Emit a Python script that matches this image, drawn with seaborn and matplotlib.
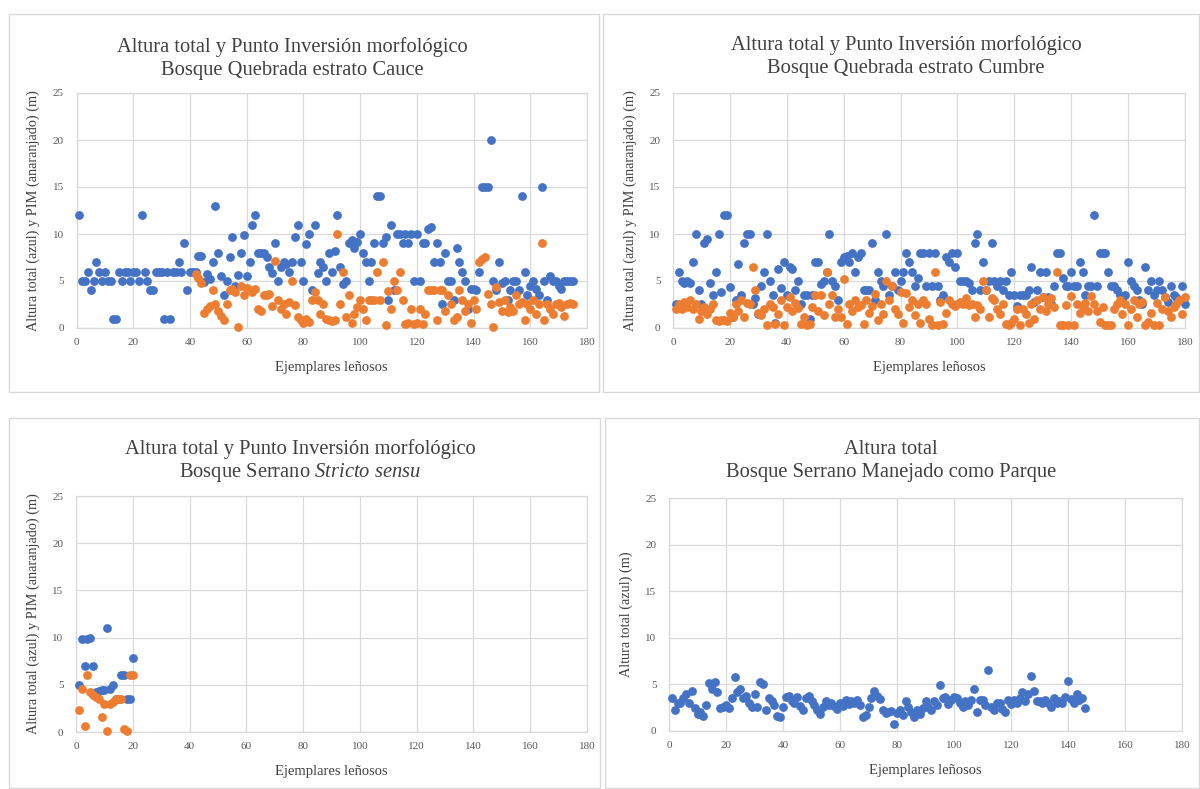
import numpy as np
import pandas as pd
import matplotlib
matplotlib.use("Agg")
import matplotlib.pyplot as plt
import seaborn as sns
from matplotlib.patches import Rectangle

sns.set_theme(style="whitegrid")
plt.rcParams['font.family'] = ['Liberation Serif', 'DejaVu Serif']
plt.rcParams['mathtext.fontset'] = 'custom'
plt.rcParams['mathtext.rm'] = 'Liberation Serif'
plt.rcParams['mathtext.it'] = 'Liberation Serif:italic'

BLUE = '#4472C4'
ORANGE = '#ED7D31'
GRID = '#D9D9D9'
TEXT = '#404040'
TICK = '#595959'

# ---------------- data ----------------
# Bosque Quebrada, estrato Cauce (ejemplares 1..175)
cauce_altura = [
    12, 5, 5, 6, 4, 5, 7, 6, 5, 6,
    5, 5, 1, 1, 6, 5, 6, 6, 5, 6,
    6, 5, 12, 6, 5, 4, 4, 6, 6, 6,
    1, 6, 1, 6, 6, 7, 6, 9, 4, 6,
    6, 6, 7.7, 7.7, 4.9, 5.7, 5.2, 7, 13, 8,
    5.5, 3.5, 5, 7.6, 9.7, 4.5, 5.6, 8, 9.9, 5.5,
    7, 11, 12, 8, 8, 8, 7.5, 6.5, 5.8, 9,
    5, 6.5, 7, 6.8, 6, 7, 9.7, 11, 7, 5,
    8.9, 10, 4, 11, 5.8, 7, 6.5, 5, 8, 6,
    8.2, 12, 6.5, 4.7, 5, 9, 9.4, 8.5, 9.2, 10,
    8, 7, 5, 7, 9, 14, 14, 9, 9.7, 3,
    11, 4, 10, 10, 9, 10, 9, 10, 5, 10,
    5, 9, 9, 10.5, 10.7, 7, 9, 7, 2.5, 8,
    5, 5, 3, 8.5, 7, 6, 5, 2, 4.2, 4.2,
    4, 6, 15, 15, 15, 20, 5, 4, 7, 4.8,
    5, 3, 4, 5, 5, 4, 14, 6, 3.5, 4.5,
    5, 4.2, 3.5, 15, 5, 3, 5.5, 5, 5, 4.5,
    4.2, 5, 5, 5, 5,
]
# PIM measured from ejemplar 42 onwards
cauce_pim_inicio = 42
cauce_pim = [
    5.7, 5.3, 4.8, 1.6, 2.0, 2.3, 4, 2.6, 1.8,
    1.3, 0.9, 2.5, 4.0, 4.2, 3.8, 0.1, 4.5, 3.5, 4.3,
    4.0, 3.8, 4.2, 2.0, 1.8, 3.5, 3.5, 3.6, 2.3, 7.1,
    3.0, 2.0, 2.6, 1.5, 2.8, 5.0, 2.4, 1.2, 0.8, 0.5,
    1.0, 0.6, 3.0, 3.8, 3.0, 1.5, 2.5, 1.0, 0.9, 0.7,
    0.9, 10, 2.5, 6, 1.2, 3.5, 0.5, 1.5, 2.2, 3.0,
    2.0, 0.8, 3, 3, 3, 6, 3, 7, 0.3, 3.9,
    2, 5, 4, 6, 3, 0.4, 0.5, 2, 0.4, 0.5,
    2, 0.4, 1.5, 4, 4, 4, 0.9, 4, 4, 1.8,
    3.5, 2.5, 0.9, 1.2, 4, 3, 1.8, 2.5, 0.5, 3.0,
    2, 7, 7.3, 7.5, 3.6, 2.5, 0.1, 4.4, 2.8, 1.8,
    3.0, 1.7, 2.2, 1.8, 3.5, 2.5, 2.8, 0.9, 2.5, 2.0,
    3.0, 1.5, 2.5, 9, 0.9, 2.5, 2.0, 1.5, 2.5, 2.7,
    2.2, 1.3, 2.5, 2.7, 2.5,
]

# Bosque Quebrada, estrato Cumbre (ejemplares 1..180)
cumbre_altura = [
    2.6, 6, 5, 4.8, 5, 4.8, 7, 10, 4, 2.5,
    9, 9.5, 4.8, 3.5, 6, 10, 3.8, 12, 12, 4.4,
    1.2, 3, 6.8, 3.5, 9, 10, 10, 2.5, 3.2, 1.5,
    4.5, 6, 10, 5, 3.5, 0.5, 6.3, 4.3, 7, 3.5,
    6.5, 6.3, 4, 5, 2.5, 3.5, 3.5, 1, 3.5, 7,
    7, 4.7, 5, 6, 10, 5, 4.5, 3, 7, 7.5,
    7.7, 7, 8, 6, 7.5, 8, 4, 4, 4, 9,
    3, 6, 5, 4.5, 10, 3.5, 4.5, 6, 4, 5,
    6, 8, 7, 6, 4.5, 5.3, 8, 8, 4.5, 8,
    4.5, 8, 4.5, 3.0, 3.5, 7.5, 7, 8, 6.5, 8,
    5, 5, 5, 4.8, 4, 9, 10, 4, 7, 4,
    5, 9, 5, 4.5, 5, 4, 5, 3.5, 6, 3.5,
    2.3, 3.5, 3.5, 3.5, 4, 6.5, 2.8, 4, 6, 3.3,
    6, 3.3, 2.5, 4.5, 8, 8, 5.3, 4.5, 4.5, 6,
    4.5, 4.5, 7, 6, 3.5, 4.5, 4.5, 12, 4.5, 8,
    8, 8, 6, 4.5, 4.5, 4, 3.5, 3.0, 3.5, 7,
    5, 4.5, 4, 3, 2.5, 6.5, 4, 5, 3.5, 4,
    5, 4, 3.3, 2.8, 4.5, 3.5, 3.3, 3, 4.5, 2.5,
]
cumbre_pim = [
    2, 2.5, 2, 2.8, 2.2, 3, 2, 2.5, 1, 1.8,
    2.2, 1.5, 2, 2.5, 0.8, 0.7, 0.9, 0.8, 0.7, 1.6,
    1.2, 2.5, 1.8, 3, 1.2, 2.7, 2.5, 6.5, 4, 1.6,
    1.4, 2, 0.3, 2.6, 2.2, 0.4, 1.5, 3, 0.3, 2.2,
    3.3, 1.8, 2.7, 2.1, 0.4, 1.2, 0.3, 0.4, 2.2, 3.5,
    1.8, 3.5, 1.4, 6, 2.6, 3.5, 1.2, 2, 1.2, 5.2,
    0.4, 2.6, 1.8, 3, 2.2, 2.4, 0.4, 3, 1.6, 2.3,
    3.6, 0.9, 2.5, 1.5, 5, 3, 4.5, 2, 1.5, 3.8,
    0.5, 3.7, 2.2, 3, 1.4, 2.5, 0.5, 3, 2.5, 1,
    0.3, 6, 0.3, 2.8, 0.4, 1.6, 3, 2.6, 2.3, 2.6,
    2.8, 2.5, 3.2, 2.4, 2.6, 1.2, 2.4, 2.0, 5, 4,
    1.2, 3.2, 3, 2, 1.5, 2.6, 0.4, 0.3, 0.5, 1,
    2, 0.3, 2, 1.5, 0.5, 2.5, 1.0, 3, 2, 3.3,
    1.8, 2.6, 3.2, 2.2, 6, 0.3, 0.3, 2.4, 0.3, 3.4,
    0.3, 2.5, 1.6, 2.2, 2.7, 1.8, 3.4, 2.5, 1.8, 0.6,
    2.2, 0.3, 0.3, 0.3, 2, 2.5, 3, 1.5, 2.5, 0.3,
    2, 3, 1.2, 2.5, 2.8, 0.3, 0.6, 1.6, 0.3, 2.7,
    0.3, 2, 3.3, 1.8, 1.2, 2.2, 2.6, 3, 1.5, 3.3,
]

# Bosque Serrano Stricto sensu (ejemplares 1..20)
serrano_altura = [5, 9.8, 7, 9.9, 10, 7, 4.2, 4.3, 4.4, 4.5,
                  11, 4.6, 5, 3.5, 3.5, 6, 6, 3.5, 3.5, 7.8]
serrano_pim = [2.3, 4.6, 0.6, 6, 4.2, 3.9, 3.7, 3.5, 1.6, 3,
               0.1, 3, 3.2, 3.5, 3.5, 3.5, 0.3, 0.1, 6, 6]

# Bosque Serrano manejado como parque (ejemplares 1..146)
parque_altura = [
    3.5, 2.3, 3, 3, 3.5, 4, 3, 4.3, 2.5, 1.8,
    2, 1.6, 2.8, 5.1, 4.5, 5.3, 4.2, 2.5, 2.6, 2.8,
    2.5, 3.5, 5.8, 4.2, 4.5, 3.5, 3.8, 3, 2.6, 4,
    2.6, 5.3, 5, 2.3, 3.5, 3.2, 2.8, 1.6, 1.5, 2.6,
    3.7, 3.8, 3.2, 3, 3.6, 2.7, 2.3, 3.5, 3.8, 3.2,
    2.8, 2.3, 1.8, 2.6, 3.2, 2.8, 3, 2.7, 2.4, 3,
    2.7, 3.3, 2.9, 3.2, 3, 3.3, 2.8, 1.5, 1.7, 2.6,
    3.5, 4.3, 3.8, 3.4, 2.2, 1.9, 2, 2.1, 0.7, 1.9,
    2.2, 1.7, 3.2, 2.6, 2.0, 1.5, 2.3, 1.8, 2.5, 3.2,
    2.6, 2.2, 3.2, 2.8, 4.9, 3.5, 3.7, 2.9, 3.3, 3.7,
    3.5, 3.0, 2.6, 3.2, 2.8, 3.3, 4.5, 2.0, 3.3, 3.3,
    2.8, 6.5, 2.6, 2.3, 3.0, 3.0, 2.4, 2.0, 3.3, 2.9,
    3.3, 3.0, 3.5, 4.2, 3.2, 4.0, 5.9, 4.3, 3.2, 3.2,
    3.0, 3.3, 3.0, 2.6, 3.5, 3.0, 3.2, 3.0, 3.6, 5.4,
    3.4, 3.0, 4.0, 3.3, 3.5, 2.5,
]

x_ticks = [0, 20, 40, 60, 80, 100, 120, 140, 160, 180]
y_ticks = [0, 5, 10, 15, 20, 25]
x_label = "Ejemplares leñosos"
y_label_doble = "Altura total (azul) y PIM (anaranjado) (m)"
y_label_simple = "Altura total (azul) (m)"

W, H = 1200, 789
fig = plt.figure(figsize=(W / 100, H / 100), dpi=100)
fig.patch.set_facecolor('white')


def box(px_left, px_top, px_right, px_bottom):
    fig.patches.append(Rectangle((px_left / W, 1 - px_bottom / H),
                                 (px_right - px_left) / W, (px_bottom - px_top) / H,
                                 transform=fig.transFigure, fill=False,
                                 edgecolor=GRID, linewidth=1.0))


def make_axes(px_left, px_top, px_right, px_bottom):
    return fig.add_axes([px_left / W, 1 - px_bottom / H,
                         (px_right - px_left) / W, (px_bottom - px_top) / H])


def scatter(ax, x, y, color):
    df = pd.DataFrame({"ejemplar": x, "valor": y})
    sns.scatterplot(data=df, x="ejemplar", y="valor", color=color, s=40,
                    linewidth=0, ax=ax, zorder=3, clip_on=False)


def style(ax, ylabel):
    ax.set_xlim(0, 180)
    ax.set_ylim(0, 25)
    ax.set_xticks(x_ticks)
    ax.set_yticks(y_ticks)
    ax.grid(True, color=GRID, linewidth=0.9)
    for sp in ax.spines.values():
        sp.set_color(GRID)
        sp.set_linewidth(0.9)
    ax.tick_params(axis='both', length=0, labelsize=8, labelcolor=TICK)
    ax.tick_params(axis='x', pad=7)
    ax.tick_params(axis='y', pad=9)
    ax.set_xlabel(x_label, fontsize=10.5, color=TEXT, labelpad=10)
    ax.set_ylabel(ylabel, fontsize=10.3, color=TEXT, labelpad=9)
    ax.set_facecolor('white')


def title(cx, cy, lines):
    for i, t in enumerate(lines):
        fig.text(cx / W, 1 - (cy + i * 24) / H, t, ha='center', va='center',
                 fontsize=14.8, color=TEXT)


# panel frames
box(9, 14, 599, 392)
box(603, 14, 1199, 392)
box(9, 418, 600, 788)
box(605, 418, 1199, 788)

# Cauce
ax1 = make_axes(76.5, 93, 587, 328)
scatter(ax1, np.arange(1, len(cauce_altura) + 1), cauce_altura, BLUE)
scatter(ax1, np.arange(cauce_pim_inicio, cauce_pim_inicio + len(cauce_pim)), cauce_pim, ORANGE)
style(ax1, y_label_doble)
title(292, 47, ["Altura total y Punto Inversión morfológico",
                "Bosque Quebrada estrato Cauce"])

# Cumbre
ax2 = make_axes(673, 93, 1185, 328)
scatter(ax2, np.arange(1, len(cumbre_altura) + 1), cumbre_altura, BLUE)
scatter(ax2, np.arange(1, len(cumbre_pim) + 1), cumbre_pim, ORANGE)
style(ax2, y_label_doble)
title(906, 45, ["Altura total y Punto Inversión morfológico",
                "Bosque Quebrada estrato Cumbre"])

# Serrano stricto sensu
ax3 = make_axes(76, 496, 587, 732)
scatter(ax3, np.arange(1, len(serrano_altura) + 1), serrano_altura, BLUE)
scatter(ax3, np.arange(1, len(serrano_pim) + 1), serrano_pim, ORANGE)
style(ax3, y_label_doble)
title(300, 449, ["Altura total y Punto Inversión morfológico",
                 r"Bosque Serrano $\mathit{Stricto\ sensu}$"])

# Serrano manejado como parque
ax4 = make_axes(669, 498, 1182, 731)
scatter(ax4, np.arange(1, len(parque_altura) + 1), parque_altura, BLUE)
style(ax4, y_label_simple)
title(891, 449, ["Altura total", "Bosque Serrano Manejado como Parque"])

fig.savefig("out.png", dpi=100, facecolor='white')
